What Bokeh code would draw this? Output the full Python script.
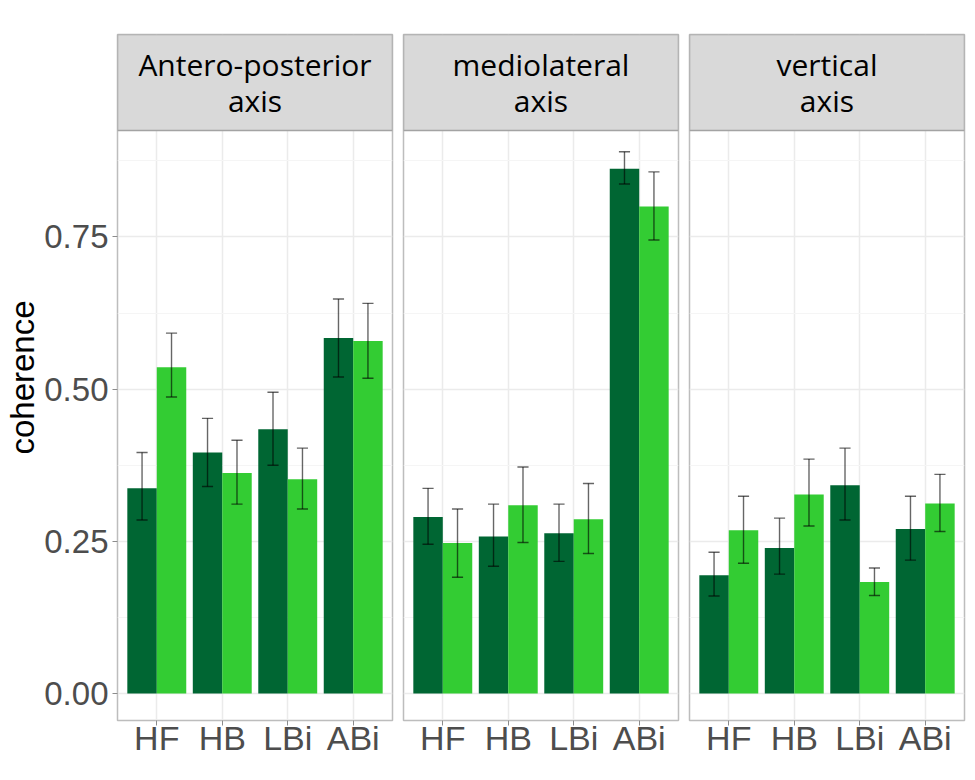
from bokeh.plotting import figure
from bokeh.models import Range1d, FixedTicker
from bokeh.layouts import row, column
from bokeh.core.properties import value
from bokeh.embed import file_html
from bokeh.resources import INLINE
import numpy as np

# ---------------- data ----------------
conditions = ["HF", "HB", "LBi", "ABi"]
panel_titles = ["Antero-posterior\naxis", "mediolateral\naxis", "vertical\naxis"]
x_title = "condition"
y_title = "coherence"

ap_dark = [0.337, 0.396, 0.434, 0.584]
ap_dark_lo = [0.285, 0.340, 0.375, 0.520]
ap_dark_hi = [0.396, 0.452, 0.495, 0.648]
ap_light = [0.536, 0.362, 0.352, 0.579]
ap_light_lo = [0.487, 0.311, 0.303, 0.518]
ap_light_hi = [0.592, 0.416, 0.403, 0.641]

ml_dark = [0.290, 0.258, 0.263, 0.862]
ml_dark_lo = [0.245, 0.209, 0.217, 0.837]
ml_dark_hi = [0.337, 0.311, 0.311, 0.890]
ml_light = [0.247, 0.309, 0.286, 0.800]
ml_light_lo = [0.191, 0.248, 0.230, 0.745]
ml_light_hi = [0.303, 0.372, 0.345, 0.857]

v_dark = [0.194, 0.239, 0.342, 0.270]
v_dark_lo = [0.160, 0.196, 0.285, 0.219]
v_dark_hi = [0.232, 0.288, 0.403, 0.324]
v_light = [0.268, 0.327, 0.183, 0.312]
v_light_lo = [0.214, 0.275, 0.161, 0.266]
v_light_hi = [0.324, 0.385, 0.206, 0.360]

y_ticks = [0.0, 0.25, 0.50, 0.75]
y_minor = [0.125, 0.375, 0.625, 0.875]
y_tick_labels = ["0.00", "0.25", "0.50", "0.75"]

panels = [
    (ap_dark, ap_dark_lo, ap_dark_hi, ap_light, ap_light_lo, ap_light_hi),
    (ml_dark, ml_dark_lo, ml_dark_hi, ml_light, ml_light_lo, ml_light_hi),
    (v_dark, v_dark_lo, v_dark_hi, v_light, v_light_lo, v_light_hi),
]

# ---------------- style ----------------
DARK = "#006633"
LIGHT = "#33CC33"
BORDER = "#BDBDBD"
STRIP_FILL = "#D9D9D9"
STRIP_BORDER = "#A3A3A3"
TICK_COLOR = "#4D4D4D"
BAR_W = 0.45
CAP = 0.085

# geometry (px)
widths = [397, 286, 284]
left_b = [117, 6, 6]
right_b = [5, 5, 3]
FIG_H = 765
TOP_B = 34
BOT_B = 45
PANEL_PX = 590           # height of the data panel below the strip
STRIP_PX = 96            # height of the facet strip
Y0, Y1 = -0.0445, 0.925  # data range of the panel itself
px_per_unit = PANEL_PX / (Y1 - Y0)
Y_TOP = Y1 + STRIP_PX / px_per_unit   # frame top incl. strip
X0, X1 = 0.4, 4.6
TITLE_H = 7              # strip of canvas under the panels for the x title

xpos = np.arange(1, len(conditions) + 1)

plots = []
for i, (title, data) in enumerate(zip(panel_titles, panels)):
    p = figure(width=widths[i], height=FIG_H, x_range=Range1d(X0, X1),
               y_range=Range1d(Y0, Y_TOP),
               output_backend="svg", toolbar_location=None,
               min_border_left=left_b[i], min_border_right=right_b[i],
               min_border_top=TOP_B, min_border_bottom=BOT_B)
    p.background_fill_color = "white"
    p.border_fill_color = "white"
    p.outline_line_color = BORDER
    p.outline_line_width = 1.5

    d, dlo, dhi, l, llo, lhi = data
    xd = xpos - BAR_W / 2
    xl = xpos + BAR_W / 2
    p.vbar(x=xd, top=d, bottom=0, width=BAR_W, fill_color=DARK, line_color=None)
    p.vbar(x=xl, top=l, bottom=0, width=BAR_W, fill_color=LIGHT, line_color=None)
    for xs, lo, hi in ((xd, dlo, dhi), (xl, llo, lhi)):
        p.segment(x0=xs, x1=xs, y0=lo, y1=hi, line_color="black", line_alpha=0.6, line_width=1.4)
        p.segment(x0=xs - CAP, x1=xs + CAP, y0=hi, y1=hi, line_color="black", line_alpha=0.6, line_width=1.4)
        p.segment(x0=xs - CAP, x1=xs + CAP, y0=lo, y1=lo, line_color="black", line_alpha=0.6, line_width=1.4)

    # facet strip (grey header box with the panel title)
    p.quad(left=[X0], right=[X1], bottom=[Y1], top=[Y_TOP], fill_color=STRIP_FILL,
           line_color=STRIP_BORDER, line_width=1.5)
    p.text(x=[(X0 + X1) / 2], y=[(Y1 + Y_TOP) / 2], text=[title], text_align="center",
           text_baseline="middle", text_font=value("Open Sans"), text_font_size="30px",
           text_color="black", text_line_height=0.88)

    # x axis
    p.xaxis.ticker = FixedTicker(ticks=list(xpos))
    p.xaxis.major_label_overrides = {int(k): c for k, c in zip(xpos, conditions)}
    p.xaxis.axis_line_color = None
    p.xaxis.major_tick_line_color = "#8C8C8C"
    p.xaxis.major_tick_out = 5
    p.xaxis.major_tick_in = 0
    p.xaxis.minor_tick_line_color = None
    p.xaxis.major_label_text_font = "Liberation Sans"
    p.xaxis.major_label_text_font_size = "34px"
    p.xaxis.major_label_text_color = TICK_COLOR
    p.xaxis.major_label_standoff = -7

    # y axis
    p.yaxis.ticker = FixedTicker(ticks=y_ticks, minor_ticks=y_minor)
    p.yaxis.major_label_overrides = {t: lab for t, lab in zip(y_ticks, y_tick_labels)}
    if i == 0:
        p.yaxis.axis_line_color = None
        p.yaxis.major_tick_line_color = "#8C8C8C"
        p.yaxis.major_tick_out = 5
        p.yaxis.major_tick_in = 0
        p.yaxis.minor_tick_line_color = None
        p.yaxis.major_label_text_font = "Liberation Sans"
        p.yaxis.major_label_text_font_size = "33px"
        p.yaxis.major_label_text_color = TICK_COLOR
        p.yaxis.major_label_standoff = 4
        p.yaxis.axis_label = y_title
        p.yaxis.axis_label_text_font = "Liberation Sans"
        p.yaxis.axis_label_text_font_size = "33px"
        p.yaxis.axis_label_text_font_style = "normal"
        p.yaxis.axis_label_text_color = "black"
        p.yaxis.axis_label_standoff = 0
    else:
        p.yaxis.visible = False

    # grid
    p.xgrid.ticker = FixedTicker(ticks=list(xpos))
    p.xgrid.grid_line_color = "#EBEBEB"
    p.xgrid.grid_line_width = 1.5
    p.ygrid.ticker = FixedTicker(ticks=y_ticks, minor_ticks=y_minor)
    p.ygrid.grid_line_color = "#EBEBEB"
    p.ygrid.grid_line_width = 1.5
    p.ygrid.minor_grid_line_color = "#F5F5F5"
    p.ygrid.minor_grid_line_width = 1.2
    plots.append(p)

# thin canvas under the panels: x-axis title, cut by the bottom of the page
total_w = sum(widths)
cf = figure(width=total_w, height=TITLE_H, x_range=Range1d(0, total_w),
            y_range=Range1d(0, TITLE_H), output_backend="svg", toolbar_location=None,
            x_axis_location=None, y_axis_location=None,
            min_border_left=0, min_border_right=0, min_border_top=0, min_border_bottom=0)
cf.grid.visible = False
cf.outline_line_color = None
cf.background_fill_color = "white"
cf.border_fill_color = "white"
mid_x = widths[0] + left_b[1] + (widths[1] - left_b[1] - right_b[1]) / 2
cf.text(x=[mid_x], y=[TITLE_H / 2], y_offset=15, text=[x_title], text_align="center",
        text_baseline="alphabetic", text_font=value("Liberation Sans"),
        text_font_size="35px", text_color="black")

layout = column(row(*plots), cf)
open("out.html", "w").write(file_html(layout, INLINE))
